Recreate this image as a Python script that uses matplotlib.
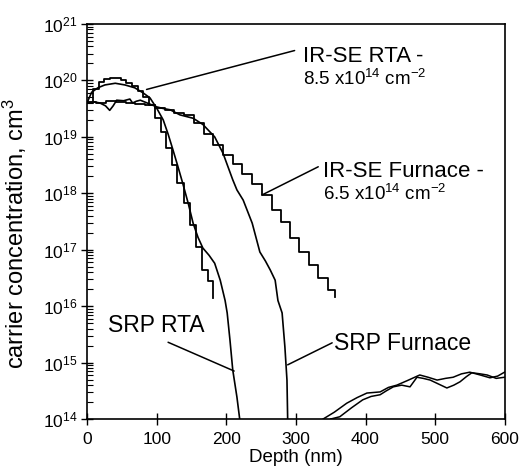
import matplotlib.pyplot as plt
import numpy as np

plt.rcParams['font.family'] = ['Liberation Sans', 'DejaVu Sans']
plt.rcParams['mathtext.fontset'] = 'custom'
plt.rcParams['mathtext.rm'] = 'Liberation Sans'
plt.rcParams['mathtext.it'] = 'Liberation Sans:italic'

# IR-SE RTA (stepped profile): bin left edges (nm), log10 concentration
irse_rta_depth = [0, 8, 16, 24, 32, 40, 48, 56, 64, 72, 80, 88, 97, 106, 113,
                  122, 129, 139, 147, 156, 165, 173]
irse_rta_log = [19.60, 19.85, 19.97, 20.03, 20.05, 20.05, 20.00, 19.95, 19.90,
                19.82, 19.70, 19.56, 19.33, 19.09, 18.80, 18.50, 18.18, 17.83,
                17.44, 17.05, 16.64, 16.45]
irse_rta_end, irse_rta_drop = 181, 16.14

# IR-SE Furnace (stepped profile)
irse_furn_depth = [0, 13, 27, 41, 55, 69, 83, 97, 111, 125, 139, 153, 167, 181,
                   195, 209, 223, 237, 251, 265, 278, 291, 305, 318, 332, 346]
irse_furn_log = [19.62, 19.60, 19.63, 19.62, 19.60, 19.58, 19.56, 19.52, 19.48,
                 19.42, 19.38, 19.25, 19.05, 18.85, 18.68, 18.52, 18.35, 18.17,
                 17.97, 17.70, 17.49, 17.21, 16.96, 16.73, 16.50, 16.29]
irse_furn_end, irse_furn_drop = 356, 16.16

# SRP RTA (smooth profile)
srp_rta_depth = [0, 6, 15, 25, 40, 54, 68, 80, 90, 100, 109, 116, 123, 130, 137,
                 145, 152, 159, 166, 175, 183, 191, 198, 201, 205, 209, 215, 219]
srp_rta_log = [19.62, 19.79, 19.87, 19.92, 19.95, 19.92, 19.87, 19.78, 19.69,
               19.50, 19.30, 19.05, 18.77, 18.48, 18.18, 17.82, 17.47, 17.22,
               17.03, 16.90, 16.76, 16.46, 16.10, 15.88, 15.40, 14.87, 14.39,
               14.00]

# SRP Furnace (smooth profile)
srp_furn_depth = [0, 10, 18, 26, 32, 37, 42, 52, 61, 65, 70, 76, 86, 100, 110,
                  119, 133, 152, 166, 183, 195, 209, 215, 224, 237, 248, 256,
                  263, 270, 274, 280, 284, 287, 288]
srp_furn_log = [19.60, 19.62, 19.60, 19.55, 19.47, 19.55, 19.65, 19.64, 19.67,
                19.60, 19.63, 19.65, 19.60, 19.53, 19.50, 19.48, 19.39, 19.33,
                19.22, 19.00, 18.71, 18.24, 18.06, 17.88, 17.47, 16.96, 16.80,
                16.64, 16.46, 16.10, 15.88, 15.28, 14.69, 14.00]

# deep tails (noise level)
tail1_depth = [339, 355, 373, 388, 402, 421, 433, 445, 460, 478, 490, 503, 515,
               526, 538, 550, 565, 579, 590, 600]
tail1_log = [14.00, 14.12, 14.28, 14.38, 14.46, 14.48, 14.56, 14.60, 14.68,
             14.78, 14.74, 14.69, 14.72, 14.74, 14.80, 14.83, 14.78, 14.73,
             14.76, 14.83]
tail2_depth = [350, 363, 380, 396, 408, 421, 430, 440, 452, 464, 474, 483, 493,
               505, 517, 527, 536, 545, 553, 565, 575, 588, 600]
tail2_log = [14.00, 14.04, 14.20, 14.34, 14.40, 14.43, 14.50, 14.57, 14.60,
             14.57, 14.74, 14.72, 14.69, 14.62, 14.55, 14.60, 14.66, 14.75,
             14.82, 14.80, 14.78, 14.72, 14.74]


def step_xy(edges, levels, end, drop):
    x = list(edges) + [end, end]
    y = list(levels) + [levels[-1], drop]
    return np.array(x), 10 ** np.array(y)


fig = plt.figure(figsize=(5.30, 4.69), dpi=100)
ax = fig.add_axes([0.165, 0.1066, 0.787, 0.8422])

x, y = step_xy(irse_rta_depth, irse_rta_log, irse_rta_end, irse_rta_drop)
ax.plot(x, y, drawstyle='steps-post', color='black', lw=1.3)
x, y = step_xy(irse_furn_depth, irse_furn_log, irse_furn_end, irse_furn_drop)
ax.plot(x, y, drawstyle='steps-post', color='black', lw=1.3)

ax.plot(srp_rta_depth, 10 ** np.array(srp_rta_log), color='black', lw=1.2)
ax.plot(srp_furn_depth, 10 ** np.array(srp_furn_log), color='black', lw=1.2)
ax.plot(tail1_depth, 10 ** np.array(tail1_log), color='black', lw=1.1)
ax.plot(tail2_depth, 10 ** np.array(tail2_log), color='black', lw=1.1)

ax.set_yscale('log')
ax.set_xlim(0, 600)
ax.set_ylim(1e14, 1e21)
ax.set_xticks(range(0, 601, 100))
ax.set_yticks([10.0 ** k for k in range(14, 22)])

ax.tick_params(axis='x', which='major', direction='inout', length=8, width=1,
               labelsize=12.5, pad=5, top=False)
ax.tick_params(axis='y', which='major', direction='inout', length=8, width=1,
               labelsize=12.5, pad=3, right=False)
ax.tick_params(axis='y', which='minor', direction='in', length=4, width=0.8,
               right=False)
for spine in ax.spines.values():
    spine.set_linewidth(1.2)

ax.set_xlabel('Depth (nm)', fontsize=13.5, labelpad=2)
ax.set_ylabel('carrier concentration, cm$^3$', fontsize=17)
ax.yaxis.set_label_coords(-0.14, 0.47)

# leader lines and labels
lead = dict(arrowstyle='-', color='black', lw=1.1, shrinkA=0, shrinkB=0)
ax.annotate('', xy=(85, 10 ** 19.84), xytext=(298, 10 ** 20.53), arrowprops=lead)
ax.annotate('', xy=(251, 10 ** 17.97), xytext=(332, 10 ** 18.47), arrowprops=lead)
ax.annotate('', xy=(211, 10 ** 14.85), xytext=(116, 10 ** 15.36), arrowprops=lead)
ax.annotate('', xy=(288, 10 ** 14.96), xytext=(352, 10 ** 15.35), arrowprops=lead)

ax.text(310, 10 ** 20.33, 'IR-SE RTA -', fontsize=16, va='baseline')
ax.text(310, 10 ** 19.92, '8.5 x10$^{14}$ cm$^{-2}$', fontsize=13.5, va='baseline')
ax.text(339, 10 ** 18.29, 'IR-SE Furnace -', fontsize=16, va='baseline')
ax.text(339, 10 ** 17.88, '6.5 x10$^{14}$ cm$^{-2}$', fontsize=13.5, va='baseline')
ax.text(29.5, 10 ** 15.54, 'SRP RTA', fontsize=16.5, va='baseline')
ax.text(354, 10 ** 15.22, 'SRP Furnace', fontsize=16.5, va='baseline')

fig.savefig('out.png', dpi=100)
